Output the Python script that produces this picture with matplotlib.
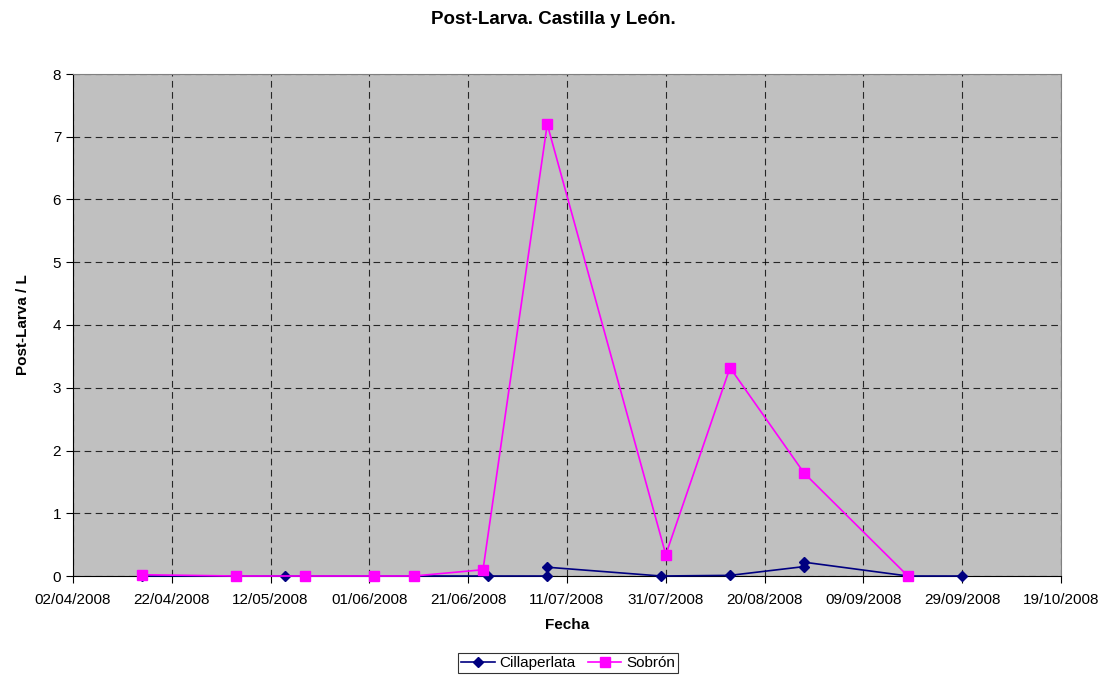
import datetime as dt
import matplotlib
matplotlib.use("Agg")
import matplotlib.pyplot as plt
import matplotlib.dates as mdates

plt.rcParams["font.family"] = ["Liberation Sans", "DejaVu Sans"]

# Cillaperlata samples (repeated dates = two samples the same day)
cil_dates = ["16/04/2008", "15/05/2008", "25/06/2008", "07/07/2008", "07/07/2008",
             "30/07/2008", "13/08/2008", "28/08/2008", "28/08/2008", "18/09/2008", "29/09/2008"]
cil_vals = [0, 0, 0, 0, 0.14, 0, 0.01, 0.15, 0.22, 0, 0]

sob_dates = ["16/04/2008", "05/05/2008", "19/05/2008", "02/06/2008", "10/06/2008",
             "24/06/2008", "07/07/2008", "31/07/2008", "13/08/2008", "28/08/2008", "18/09/2008"]
sob_vals = [0.02, 0, 0, 0, 0, 0.1, 7.2, 0.34, 3.32, 1.64, 0]

def parse(ds):
    return [dt.datetime.strptime(d, "%d/%m/%Y") for d in ds]

fig = plt.figure(figsize=(11.04, 6.75), dpi=100)
ax = fig.add_axes([73/1104, 1-576/675, (1061-73)/1104, (576-74)/675])
ax.set_facecolor("#C0C0C0")

ax.plot(parse(cil_dates), cil_vals, color="#000080", marker="D", ms=5.5, lw=1.2,
        label="Cillaperlata", zorder=3, clip_on=False)
ax.plot(parse(sob_dates), sob_vals, color="#FF00FF", marker="s", ms=6.5, lw=1.2,
        label="Sobrón", zorder=3, clip_on=False)

start = dt.datetime(2008, 4, 2)
ticks = [start + dt.timedelta(days=20*i) for i in range(11)]
ax.set_xlim(ticks[0], ticks[-1])
ax.set_xticks(ticks)
ax.xaxis.set_major_formatter(mdates.DateFormatter("%d/%m/%Y"))
ax.set_ylim(0, 8)
ax.set_yticks(range(9))
ax.tick_params(labelsize=11, length=5, direction="out", colors="black")
ax.tick_params(axis="x", pad=7)
ax.grid(True, color="black", ls=(0, (6, 4)), lw=0.8, alpha=0.8)
ax.set_axisbelow(True)
for s in ax.spines.values():
    s.set_color("#808080")
ax.spines["bottom"].set_color("black")
ax.spines["left"].set_color("black")

ax.set_xlabel("Fecha", fontsize=11, fontweight="bold", labelpad=8)
ax.set_ylabel("Post-Larva / L", fontsize=11, fontweight="bold", labelpad=16)
fig.text(553/1104, 1-20/675, "Post-Larva. Castilla y León.", ha="center", va="center",
         fontsize=13.5, fontweight="bold")

leg = fig.legend(loc="center", bbox_to_anchor=(568/1104, 1-663/675), ncol=2,
                 fontsize=11, frameon=True, fancybox=False, edgecolor="black",
                 handlelength=2.2, handletextpad=0.3, columnspacing=0.8,
                 borderpad=0.2)
leg.get_frame().set_linewidth(0.8)

fig.savefig("out.png", dpi=100)
